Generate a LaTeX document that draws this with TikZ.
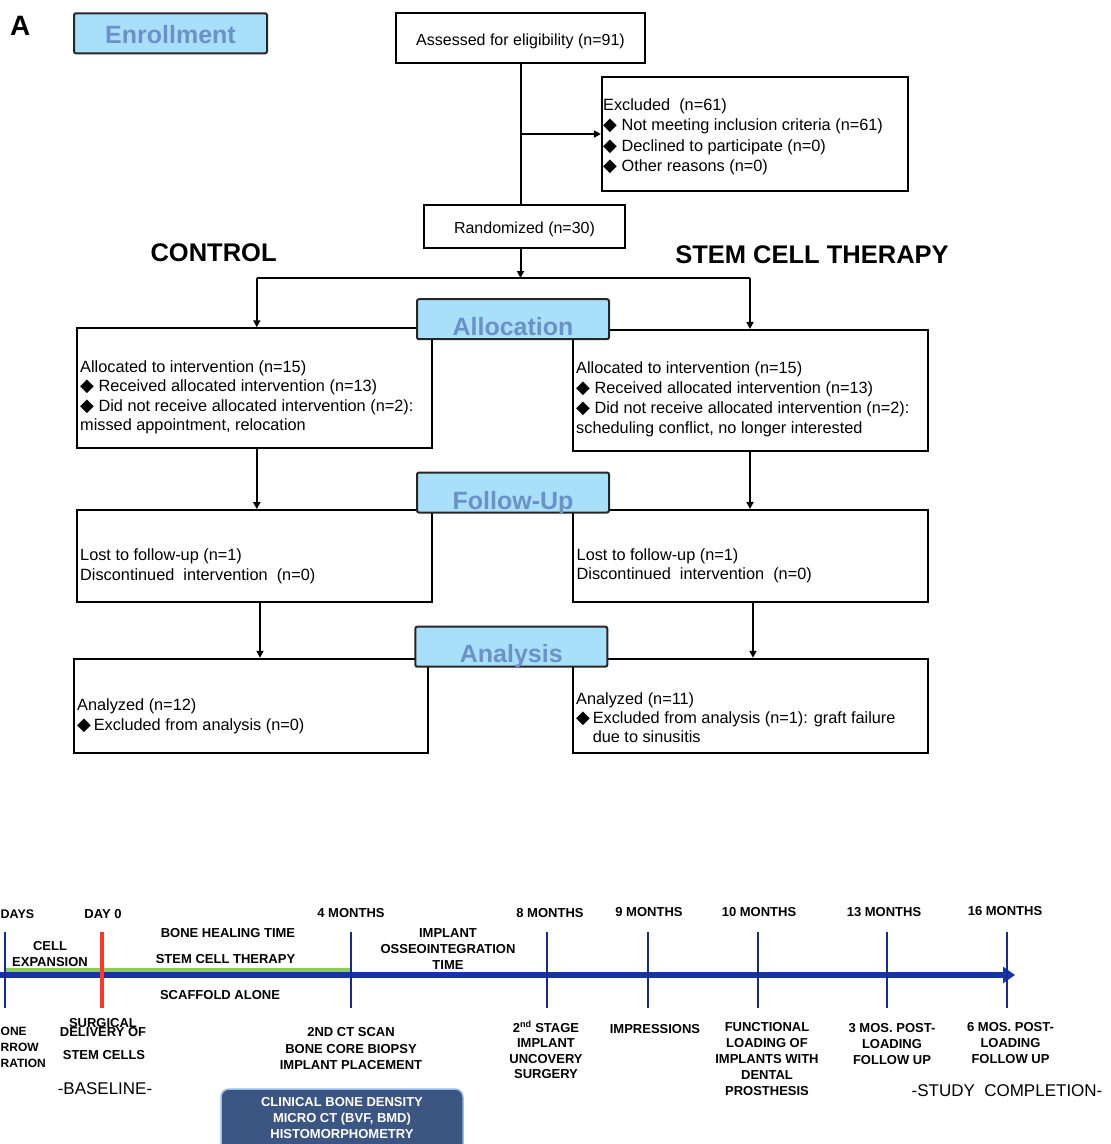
\documentclass[tikz,border=0pt]{standalone}
\usepackage{fontspec}
\setmainfont{Liberation Sans}
\newfontfamily\symfont{DejaVu Sans}
\usetikzlibrary{arrows.meta}
\definecolor{phasefill}{RGB}{168,224,250}
\definecolor{phaseink}{RGB}{108,144,200}
\definecolor{lineblue}{RGB}{24,52,160}
\definecolor{tickblue}{RGB}{22,42,150}
\definecolor{bargreen}{RGB}{140,206,80}
\definecolor{dayred}{RGB}{255,58,30}
\definecolor{panelfill}{RGB}{60,86,132}
\definecolor{panelrim}{RGB}{150,190,232}
\newcommand{\dia}{{\symfont\fontsize{18}{20}\selectfont ◆}}
\tikzset{
  flowbox/.style={draw, line width=2.1pt, fill=white, inner sep=0pt},
  phasebox/.style={draw=black!85, line width=2pt, fill=phasefill, rounded corners=2pt,
    minimum width=192pt, minimum height=40pt, inner sep=0pt, text=phaseink,
    font=\bfseries\fontsize{25}{25}\selectfont, text depth=0pt},
  flowtext/.style={anchor=base west, align=left, inner sep=0pt, font=\fontsize{16.3}{20}\selectfont},
  grouphead/.style={anchor=base, inner sep=0pt, font=\bfseries\fontsize{25.5}{26}\selectfont},
  conn/.style={line width=2pt},
  arrowline/.style={conn, -{Triangle[length=7pt,width=7pt]}},
  tltext/.style={anchor=base, align=center, inner sep=0pt, font=\bfseries\fontsize{13}{16}\selectfont},
  tlbig/.style={anchor=base, inner sep=0pt, font=\fontsize{17}{17}\selectfont},
  tickline/.style={tickblue, line width=2.6pt},
}
\begin{document}
\begin{tikzpicture}[x=1pt,y=-1pt]
\useasboundingbox (0,0) rectangle (1111,1144);
\clip (0,0) rectangle (1111,1144);
% consort flow chart
\node[anchor=base west, inner sep=0pt, font=\bfseries\fontsize{28}{28}\selectfont] (panelA) at (10,35) {A};
\node[flowbox, minimum width=249pt, minimum height=50pt, font=\fontsize{16}{20}\selectfont, text height=14pt, text depth=0pt] (assess) at (520.5,38) {Assessed for eligibility (n=91)};
\node[flowbox, minimum width=306pt, minimum height=114pt] (excl) at (755,134) {};
\node[flowbox, minimum width=201pt, minimum height=43pt, font=\fontsize{16}{20}\selectfont, text height=13pt, text depth=0pt] (random) at (524.5,226.5) {Randomized (n=30)};
\node[flowbox, minimum width=355pt, minimum height=120pt] (allocL) at (254.2,388.3) {};
\node[flowbox, minimum width=355pt, minimum height=121pt] (allocR) at (750.5,390.5) {};
\node[flowbox, minimum width=355pt, minimum height=92pt] (followL) at (254.5,556.2) {};
\node[flowbox, minimum width=355pt, minimum height=92pt] (followR) at (750.5,556) {};
\node[flowbox, minimum width=354pt, minimum height=94pt] (analysisL) at (250.8,705.8) {};
\node[flowbox, minimum width=355pt, minimum height=94pt] (analysisR) at (750.5,705.8) {};
% box texts (placed at the baseline of their last line)
\node[flowtext, font=\fontsize{16.3}{20.5}\selectfont] (excltext) at (603,171.5) {Excluded~ (n=61)\\\dia{} Not meeting inclusion criteria (n=61)\\\dia{} Declined to participate (n=0)\\\dia{} Other reasons (n=0)};
\node[flowtext, font=\fontsize{16.3}{19.3}\selectfont] (allocLtext) at (80,430.5) {Allocated to intervention (n=15)\\\dia{} Received allocated intervention (n=13)\\\dia{} Did not receive allocated intervention (n=2):\\missed appointment, relocation};
\node[flowtext, font=\fontsize{16.3}{19.7}\selectfont] (allocRtext) at (576,433) {Allocated to intervention (n=15)\\\dia{} Received allocated intervention (n=13)\\\dia{} Did not receive allocated intervention (n=2):\\scheduling conflict, no longer interested};
\node[flowtext, font=\fontsize{16.3}{19.5}\selectfont] (followLtext) at (80,580) {Lost to follow-up (n=1)\\Discontinued~ intervention~ (n=0)};
\node[flowtext, font=\fontsize{16.3}{19.5}\selectfont] (followRtext) at (576.5,579.5) {Lost to follow-up (n=1)\\Discontinued~ intervention~ (n=0)};
\node[flowtext, font=\fontsize{16.3}{19.3}\selectfont] (analysisLtext) at (77,730) {Analyzed (n=12)\\\dia\,Excluded from analysis (n=0)};
\node[flowtext, font=\fontsize{16.3}{19}\selectfont] (analysisRtext) at (576,742) {Analyzed (n=11)\\\dia\,Excluded from analysis (n=1): graft failure\\\phantom{\dia\,}due to sinusitis};
\node[grouphead] (control) at (213.6,261.7) {CONTROL};
\node[grouphead] (stemcell) at (812,263) {STEM CELL THERAPY};
% connectors
\coordinate (exclsplit) at (520.5,134);
\coordinate (splitM) at (520.5,278);
\coordinate (splitL) at (256.8,278);
\coordinate (splitR) at (750,278);
\draw[conn] (assess.south) -- (assess.south |- random.north);
\draw[arrowline] (exclsplit) -- (excl.west);
\draw[arrowline] (assess.south |- random.south) -- (splitM);
\draw[conn] (splitL) -- (splitR);
\draw[arrowline] (splitL) -- (splitL |- allocL.north);
\draw[arrowline] (splitR) -- (splitR |- allocR.north);
\draw[arrowline] (splitL |- allocL.south) -- (splitL |- followL.north);
\draw[arrowline] (splitR |- allocR.south) -- (splitR |- followR.north);
\draw[arrowline] ([xshift=5.5pt]followL.south) -- ([xshift=5.5pt]followL.south |- analysisL.north);
\draw[arrowline] ([xshift=2.5pt]followR.south) -- ([xshift=2.5pt]followR.south |- analysisR.north);
% phase labels
\node[phasebox, minimum width=193pt, text height=20pt] (enroll) at (170.5,33.3) {Enrollment};
\node[phasebox, text height=32pt] (allocation) at (513,319.2) {Allocation};
\node[phasebox, text height=34pt] (followup) at (513,492.5) {Follow-Up};
\node[phasebox, text height=32pt] (analysis) at (511.3,646.7) {Analysis};
% study timeline
\coordinate (tlstart) at (0,975);
\coordinate (tlend) at (1015,975);
\draw[lineblue, line width=6pt, -{Triangle[length=12pt,width=16pt]}] (tlstart) -- (tlend);
\draw[bargreen, line width=4.5pt] (5,970) -- (352,970);
\foreach \x in {5,351,547,648,758,887,1007} {
\draw[tickline] (\x,932) -- (\x,1008);
}
\draw[dayred, line width=4pt] (102,932) -- (102,1008);
\node[tltext, anchor=base west, font=\bfseries\fontsize{12.5}{16}\selectfont] (daysleft) at (0.5,918) {DAYS};
\node[tltext] (day0) at (103,918) {DAY 0};
\node[tltext] (month4) at (351,917) {4 MONTHS};
\node[tltext] (month8) at (550,917) {8 MONTHS};
\node[tltext] (month9) at (649,916) {9 MONTHS};
\node[tltext] (month10) at (759,916) {10 MONTHS};
\node[tltext] (month13) at (884,916) {13 MONTHS};
\node[tltext] (month16) at (1005,915) {16 MONTHS};
\node[tltext] (expansion) at (50,966) {CELL\\EXPANSION};
\node[tltext] (healing) at (228,937) {BONE HEALING TIME};
\node[tltext] (therapy) at (225.5,963) {STEM CELL THERAPY};
\node[tltext] (scaffold) at (220,999) {SCAFFOLD ALONE};
\node[tltext, font=\bfseries\fontsize{13}{16}\selectfont] (osseo) at (448,969) {IMPLANT\\OSSEOINTEGRATION\\TIME};
\node[tltext, anchor=base west, font=\bfseries\fontsize{12}{16}\selectfont] (marrow1) at (0.5,1035) {ONE};
\node[tltext, anchor=base west, font=\bfseries\fontsize{12}{16}\selectfont] (marrow2) at (0.5,1051) {RROW};
\node[tltext, anchor=base west, font=\bfseries\fontsize{12}{16}\selectfont] (marrow3) at (0.5,1067) {RATION};
\node[tltext] (surgical) at (103,1027) {SURGICAL};
\node[tltext] (delivery) at (103,1036) {DELIVERY OF};
\node[tltext] (stemcells) at (104,1059) {STEM CELLS};
\node[tlbig] (baseline) at (105,1094) {-BASELINE-};
\node[tltext] (ctscan) at (351,1036) {2ND CT SCAN};
\node[tltext] (biopsy) at (351,1069) {BONE CORE BIOPSY\\IMPLANT PLACEMENT};
\node[tltext, font=\bfseries\fontsize{13}{15.5}\selectfont] (uncovery) at (546,1078.5) {2\textsuperscript{nd} STAGE\\IMPLANT\\UNCOVERY\\SURGERY};
\node[tltext] (impress) at (655,1033) {IMPRESSIONS};
\node[tltext, font=\bfseries\fontsize{13}{15.8}\selectfont] (loading) at (767,1095) {FUNCTIONAL\\LOADING OF\\IMPLANTS WITH\\DENTAL\\PROSTHESIS};
\node[tltext] (post3) at (892,1064) {3 MOS. POST-\\LOADING\\FOLLOW UP};
\node[tltext] (post6) at (1010.5,1063) {6 MOS. POST-\\LOADING\\FOLLOW UP};
\node[tlbig] (completion) at (1007,1096) {-STUDY~ COMPLETION-};
\node[draw=panelrim, line width=1.5pt, fill=panelfill, rounded corners=8pt, minimum width=242pt, minimum height=70pt, inner sep=0pt] (clinical) at (342,1124) {};
\node[tltext, text=white] (clinicaltext) at (342,1138) {CLINICAL BONE DENSITY\\MICRO CT (BVF, BMD)\\HISTOMORPHOMETRY};
\end{tikzpicture}
\end{document}
